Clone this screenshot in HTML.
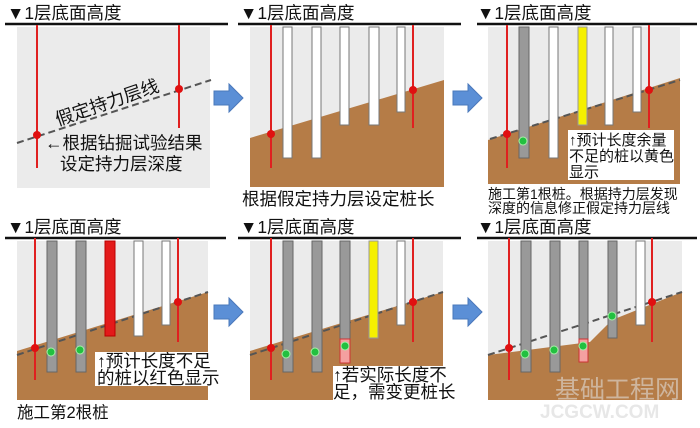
<!DOCTYPE html>
<html><head><meta charset="utf-8"><style>
html,body{margin:0;padding:0;background:#fff;}
svg{display:block;}
text{font-family:"Liberation Sans","Noto Sans CJK SC",sans-serif;fill:#111;}
</style></head><body>
<svg width="700" height="428" viewBox="0 0 700 428" xmlns="http://www.w3.org/2000/svg">
<defs>
<g id="arrow"><path d="M0,7 H15 V0 L29,14 L15,28 V21 H0 Z" fill="#5b8fd6" stroke="#4a78bb" stroke-width="1"/></g>
</defs>
<g font-size="17.5">
<text x="7" y="19">▼1层底面高度</text>
<text x="240" y="19">▼1层底面高度</text>
<text x="477" y="19">▼1层底面高度</text>
<text x="7" y="233">▼1层底面高度</text>
<text x="240" y="233">▼1层底面高度</text>
<text x="477" y="233">▼1层底面高度</text>
</g>
<rect x="17" y="27" width="193" height="161" fill="#ebebeb"/>
<rect x="250" y="27" width="194" height="160" fill="#ebebeb"/>
<rect x="488" y="27" width="192" height="157" fill="#ebebeb"/>
<rect x="17" y="241" width="191" height="159" fill="#ebebeb"/>
<rect x="250" y="241" width="193" height="159" fill="#ebebeb"/>
<rect x="488" y="241" width="194" height="159" fill="#ebebeb"/>
<polygon points="250,138 444,80 444,187 250,187" fill="#b57c47"/>
<polygon points="488,140 680,78 680,184 488,184" fill="#b57c47"/>
<polygon points="17,351 208,292 208,400 17,400" fill="#b57c47"/>
<polygon points="250,351 443,292 443,400 250,400" fill="#b57c47"/>
<polygon points="488,355 590,342 612,320 682,292 682,400 488,400" fill="#b57c47"/>
<g stroke="#111" stroke-width="2.5">
<line x1="5" y1="24" x2="228" y2="24"/><line x1="238" y1="24" x2="461" y2="24"/><line x1="477" y1="24" x2="697" y2="24"/>
<line x1="5" y1="238" x2="226" y2="238"/><line x1="238" y1="238" x2="461" y2="238"/><line x1="477" y1="238" x2="697" y2="238"/>
</g>
<use href="#arrow" x="214" y="84"/><use href="#arrow" x="453" y="84"/>
<use href="#arrow" x="214" y="298"/><use href="#arrow" x="453" y="298"/>
<!-- Panel 1 -->
<line x1="17" y1="143" x2="211" y2="80" stroke="#555" stroke-width="2" stroke-dasharray="7,4"/>
<g stroke="#e02020" stroke-width="2"><line x1="37" y1="25" x2="37" y2="168"/><line x1="179" y1="25" x2="179" y2="128"/></g>
<circle cx="37" cy="135" r="4" fill="#e01010"/><circle cx="179" cy="89" r="4" fill="#e01010"/>
<text x="0" y="0" font-size="18" transform="translate(58,126) rotate(-19)">假定持力层线</text>
<text x="45" y="149" font-size="17.5">←根据钻掘试验结果</text>
<text x="60" y="170" font-size="17.5">设定持力层深度</text>
<!-- Panel 2 -->
<g fill="#fff" stroke="#777" stroke-width="1">
<rect x="283" y="27" width="9" height="131"/><rect x="312" y="27" width="9" height="131"/>
<rect x="340" y="27" width="9" height="98"/><rect x="369" y="27" width="10" height="98"/><rect x="397" y="27" width="8" height="85"/>
</g>
<g stroke="#e02020" stroke-width="2"><line x1="271" y1="25" x2="271" y2="168"/><line x1="413" y1="25" x2="413" y2="128"/></g>
<circle cx="271" cy="134" r="4" fill="#e01010"/><circle cx="413" cy="90" r="4" fill="#e01010"/>
<text x="242" y="205" font-size="17.5">根据假定持力层设定桩长</text>
<!-- Panel 3 -->
<line x1="490" y1="139" x2="680" y2="80" stroke="#555" stroke-width="2" stroke-dasharray="7,4"/>
<rect x="519" y="27" width="10" height="131" fill="#999" stroke="#666"/>
<g fill="#fff" stroke="#777"><rect x="549" y="27" width="9" height="131"/><rect x="605" y="27" width="8" height="98"/><rect x="633" y="27" width="8" height="85"/></g>
<rect x="578" y="27" width="9" height="98" fill="#f5f000" stroke="#999"/>
<g stroke="#e02020" stroke-width="2"><line x1="507" y1="25" x2="507" y2="168"/><line x1="649" y1="25" x2="649" y2="128"/></g>
<circle cx="507" cy="134" r="4" fill="#e01010"/><circle cx="649" cy="90" r="4" fill="#e01010"/>
<circle cx="523" cy="141" r="4" fill="#22c040" stroke="#a8f0a8"/>
<rect x="568" y="130" width="106" height="50" fill="#fff"/>
<g font-size="15"><text x="569" y="145">↑预计长度余量</text><text x="569" y="161">不足的桩以黄色</text><text x="569" y="177">显示</text></g>
<g font-size="14"><text x="488" y="199">施工第1根桩。根据持力层发现</text><text x="488" y="213">深度的信息修正假定持力层线</text></g>
<!-- Panel 4 -->
<line x1="17" y1="355" x2="208" y2="292" stroke="#555" stroke-width="2" stroke-dasharray="7,4"/>
<g fill="#999" stroke="#666"><rect x="47" y="241" width="10" height="131"/><rect x="76" y="241" width="10" height="131"/></g>
<rect x="105" y="241" width="10" height="95" fill="#e31a1a" stroke="#b00"/>
<g fill="#fff" stroke="#777"><rect x="134" y="241" width="9" height="95"/><rect x="162" y="241" width="8" height="84"/></g>
<g stroke="#e02020" stroke-width="2"><line x1="35" y1="238" x2="35" y2="380"/><line x1="178" y1="238" x2="178" y2="342"/></g>
<circle cx="35" cy="348" r="4" fill="#e01010"/><circle cx="178" cy="302" r="4" fill="#e01010"/>
<circle cx="51" cy="352" r="4" fill="#22c040" stroke="#a8f0a8"/><circle cx="80" cy="350" r="4" fill="#22c040" stroke="#a8f0a8"/>
<rect x="95" y="352" width="131" height="34" fill="#fff"/>
<g font-size="17.5"><text x="97" y="367">↑预计长度不足</text><text x="97" y="384">的桩以红色显示</text></g>
<text x="17" y="418" font-size="16.5">施工第2根桩</text>
<!-- Panel 5 -->
<line x1="250" y1="355" x2="443" y2="292" stroke="#555" stroke-width="2" stroke-dasharray="7,4"/>
<g fill="#999" stroke="#666"><rect x="283" y="241" width="10" height="131"/><rect x="312" y="241" width="10" height="131"/><rect x="340" y="241" width="10" height="98"/></g>
<rect x="340" y="339" width="10" height="24" fill="#f4a0a0" stroke="#c33"/>
<rect x="369" y="241" width="9" height="97" fill="#f5f000" stroke="#999"/>
<rect x="397" y="241" width="8" height="84" fill="#fff" stroke="#777"/>
<g stroke="#e02020" stroke-width="2"><line x1="271" y1="238" x2="271" y2="380"/><line x1="413" y1="238" x2="413" y2="342"/></g>
<circle cx="271" cy="348" r="4" fill="#e01010"/><circle cx="413" cy="302" r="4" fill="#e01010"/>
<circle cx="286" cy="354" r="4" fill="#22c040" stroke="#a8f0a8"/><circle cx="315" cy="352" r="4" fill="#22c040" stroke="#a8f0a8"/><circle cx="345" cy="346" r="4" fill="#22c040" stroke="#a8f0a8"/>
<rect x="333" y="366" width="128" height="35" fill="#fff"/>
<g font-size="17.5"><text x="333" y="381">↑若实际长度不</text><text x="333" y="398">足，需变更桩长</text></g>
<!-- Panel 6 -->
<line x1="488" y1="355" x2="682" y2="292" stroke="#555" stroke-width="2" stroke-dasharray="7,4"/>
<g fill="#999" stroke="#666"><rect x="521" y="241" width="10" height="131"/><rect x="550" y="241" width="10" height="131"/><rect x="579" y="241" width="9" height="98"/><rect x="608" y="241" width="9" height="97"/></g>
<rect x="579" y="339" width="9" height="23" fill="#f4a0a0" stroke="#c33"/>
<rect x="636" y="241" width="9" height="84" fill="#fff" stroke="#777"/>
<g stroke="#e02020" stroke-width="2"><line x1="509" y1="238" x2="509" y2="380"/><line x1="652" y1="238" x2="652" y2="342"/></g>
<circle cx="509" cy="348" r="4" fill="#e01010"/><circle cx="652" cy="302" r="4" fill="#e01010"/>
<circle cx="525" cy="354" r="4" fill="#22c040" stroke="#a8f0a8"/><circle cx="554" cy="350" r="4" fill="#22c040" stroke="#a8f0a8"/><circle cx="583" cy="346" r="4" fill="#22c040" stroke="#a8f0a8"/><circle cx="612" cy="316" r="4" fill="#22c040" stroke="#a8f0a8"/>
<g opacity="0.55">
<text x="555" y="398" font-size="25" style="fill:#e4e4e4">基础工程网</text>
<text x="540" y="418" font-size="19" font-weight="bold" style="fill:#d4d4d4">JCGCW.COM</text>
</g>
</svg>
</body></html>
